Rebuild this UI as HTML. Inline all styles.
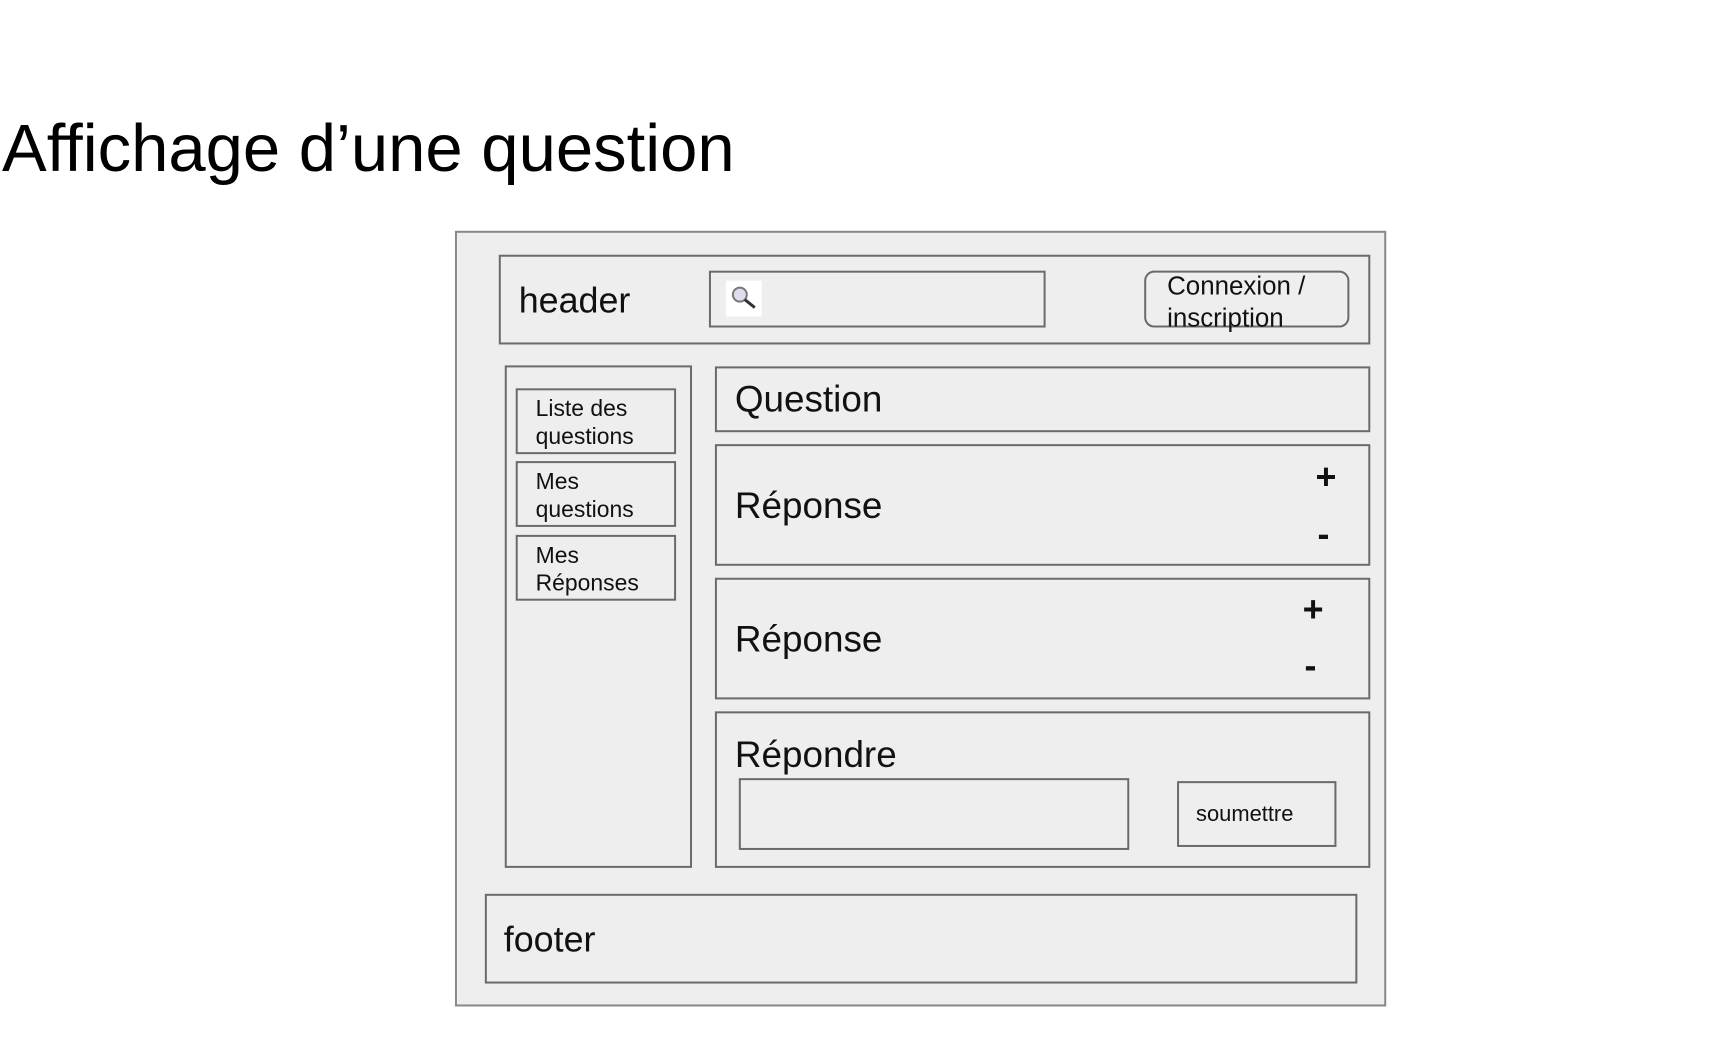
<!DOCTYPE html>
<html><head><meta charset="utf-8"><style>
body{margin:0;width:1713px;height:1050px;background:#fff;position:relative;overflow:hidden;font-family:"Liberation Sans",Arial,sans-serif;color:#111}
.b{position:absolute;box-sizing:border-box;border:2px solid #6a6a6a;background:#eee}
.t{position:absolute;white-space:nowrap;line-height:1}
#w{position:absolute;left:0;top:0;width:1713px;height:1050px;transform-origin:0 0;transform:translate(-1.2px,-1.5px) scale(0.996,0.997)}
</style></head><body>
<div class="t" style="left:2px;top:115px;font-size:67px;color:#000">Affichage d’une question</div>
<div id="w">
<div class="b" style="left:458px;top:233px;width:935px;height:778px;border-color:#888"></div>
<div class="b" style="left:502px;top:257px;width:875px;height:90px"></div>
<div class="t" style="left:522px;top:285px;font-size:36px">header</div>
<div class="b" style="left:713px;top:273px;width:338px;height:57px"></div>
<div style="position:absolute;left:730px;top:283px;width:36px;height:36px;background:#fff"></div>
<svg style="position:absolute;left:730px;top:283px" width="36" height="36"><circle cx="14" cy="14" r="7" fill="#dde" stroke="#777" stroke-width="2"/><line x1="19" y1="19" x2="29" y2="27" stroke="#333" stroke-width="3"/></svg>
<div class="b" style="left:1150px;top:273px;width:206px;height:57px;border-radius:10px"></div>
<div class="t" style="left:1173px;top:272px;font-size:26px;line-height:32px">Connexion /<br>inscription</div>
<div class="b" style="left:508px;top:368px;width:188px;height:504px"></div>
<div class="b" style="left:519px;top:391px;width:161px;height:66px"></div>
<div class="t" style="left:539px;top:397px;font-size:23px;line-height:28px">Liste des<br>questions</div>
<div class="b" style="left:519px;top:464px;width:161px;height:66px"></div>
<div class="t" style="left:539px;top:470px;font-size:23px;line-height:28px">Mes<br>questions</div>
<div class="b" style="left:519px;top:538px;width:161px;height:66px"></div>
<div class="t" style="left:539px;top:544px;font-size:23px;line-height:28px">Mes<br>Réponses</div>
<div class="b" style="left:719px;top:369px;width:658px;height:66px"></div>
<div class="t" style="left:739px;top:383px;font-size:37px">Question</div>
<div class="b" style="left:719px;top:447px;width:658px;height:122px"></div>
<div class="t" style="left:739px;top:490px;font-size:37px">Réponse</div>
<div class="t" style="left:1322px;top:462px;font-size:36px;font-weight:bold">+</div>
<div class="t" style="left:1324px;top:519px;font-size:36px;font-weight:bold">-</div>
<div class="b" style="left:719px;top:581px;width:658px;height:122px"></div>
<div class="t" style="left:739px;top:624px;font-size:37px">Réponse</div>
<div class="t" style="left:1309px;top:595px;font-size:36px;font-weight:bold">+</div>
<div class="t" style="left:1311px;top:651px;font-size:36px;font-weight:bold">-</div>
<div class="b" style="left:719px;top:715px;width:658px;height:157px"></div>
<div class="t" style="left:739px;top:740px;font-size:37px">Répondre</div>
<div class="b" style="left:743px;top:782px;width:392px;height:72px"></div>
<div class="b" style="left:1183px;top:785px;width:160px;height:66px"></div>
<div class="t" style="left:1202px;top:807px;font-size:22px">soumettre</div>
<div class="b" style="left:488px;top:898px;width:876px;height:90px"></div>
<div class="t" style="left:507px;top:926px;font-size:36px">footer</div>
</div>
</body></html>
